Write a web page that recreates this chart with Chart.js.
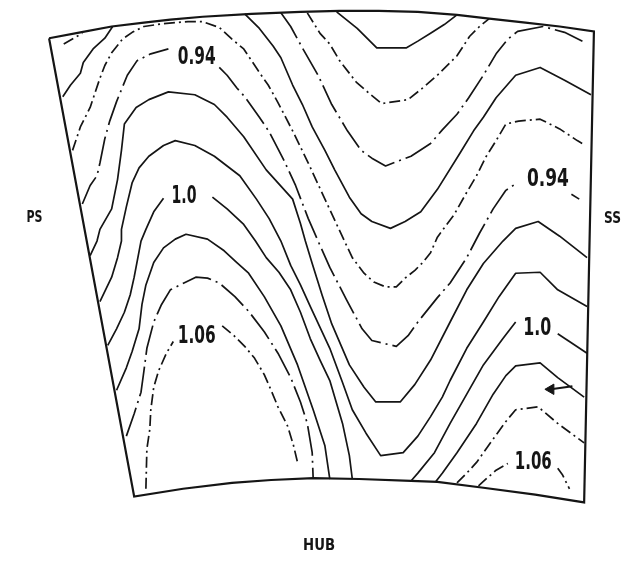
<!DOCTYPE html>
<html>
<head>
<meta charset="utf-8">
<script src="https://cdn.jsdelivr.net/npm/chart.js@4.4.1/dist/chart.umd.min.js"></script>
<style>
  html, body { margin: 0; padding: 0; background: #ffffff; }
  #wrap { width: 642px; height: 565px; }
</style>
</head>
<body>
<div id="wrap"><canvas id="c" width="642" height="565"></canvas></div>
<script>
// Passage outline in sheet units (x: PS -> SS, y: tip -> hub)
const tipArc = [[43,32],[75,26],[107,20],[140,16],[167,13],[200,10],[250,7],[300,5],[340,4],[380,4],[420,5],[460,8],[493,12],[530,16],[565,20],[600,25]];
const hubArc = [[590,508],[540,500],[487,493],[440,487],[413,486],[360,484],[313,483],[270,485],[230,488],[180,494],[130,502]];

// Contour lines, one array per level; null marks the break where a level label sits
const c084 = [[337,5],[358,22],[378,42],[408,42],[420,35],[433,27],[447,18],[460,8]];
const c086 = [[307,6],[320,27],[330,38],[340,55],[357,77],[372,90],[383,99],[410,95],[425,83],[440,70],[460,50],[473,30],[483,20],[493,12]];
const c088a = [[58,38],[77,27]];
const c088 = [[280,6],[290,20],[302,42],[318,70],[332,100],[348,127],[362,147],[373,155],[387,163],[413,153],[433,140],[445,126],[460,110],[472,93],[487,70],[500,48],[512,33],[522,25],[548,20],[570,26],[592,37]];
const c090a = [[57,92],[65,80],[75,68],[78,57],[88,43],[100,32],[108,20]];
const c090 = [[243,7],[258,22],[272,40],[280,52],[292,80],[302,100],[312,123],[325,147],[335,167],[350,195],[362,212],[373,220],[392,227],[407,220],[423,210],[440,187],[463,150],[477,127],[487,113],[500,93],[520,70],[545,62],[570,75],[597,90]];
const c092 = [[67,147],[75,123],[85,103],[95,73],[100,60],[107,47],[118,33],[128,26],[140,20],[160,17],[185,15],[200,15],[217,21],[230,33],[242,43],[248,52],[260,70],[267,80],[277,98],[292,127],[308,160],[325,197],[345,240],[353,257],[365,273],[375,282],[387,287],[398,287],[407,278],[417,270],[425,262],[433,252],[440,236],[457,213],[470,190],[480,173],[490,153],[500,137],[510,120],[523,117],[545,115],[565,125],[583,137],[590,141]];
const c094 = [[77,202],[85,183],[92,173],[95,160],[100,135],[105,117],[112,97],[123,70],[133,55],[147,48],[165,43],null,[217,62],[225,70],[235,83],[243,92],[258,113],[268,128],[283,157],[295,183],[308,217],[318,240],[330,267],[347,300],[363,330],[373,342],[398,348],[410,337],[420,323],[440,298],[453,283],[470,257],[483,232],[497,207],[510,188],[522,180],null,[577,192],[585,197]];
const c096 = [[85,255],[92,240],[95,228],[107,207],[113,177],[117,147],[120,120],[132,103],[145,95],[165,87],[192,90],[212,100],[225,113],[242,133],[265,167],[292,197],[300,222],[305,240],[312,263],[322,295],[332,325],[350,367],[365,390],[377,405],[402,405],[417,387],[433,362],[453,323],[470,290],[487,263],[507,240],[520,227],[543,220],[565,235],[593,257]];
const c098 = [[95,302],[107,277],[113,257],[117,240],[117,228],[122,205],[128,180],[135,165],[145,153],[160,142],[172,137],[192,142],[212,153],[225,163],[238,173],[255,197],[268,217],[280,240],[290,265],[300,285],[310,307],[330,350],[343,385],[353,413],[367,437],[382,460],[405,457],[420,440],[433,420],[445,400],[453,383],[470,350],[487,323],[503,297],[520,273],[545,272],[563,290],[593,307]];
const c100 = [[103,347],[112,330],[120,313],[126,295],[130,277],[137,240],[142,228],[150,210],[160,196],null,[210,195],[225,207],[242,223],[254,240],[265,257],[278,272],[290,290],[300,313],[310,340],[320,362],[330,383],[343,427],[350,460],[353,484]];
const c100b = [[413,486],[420,478],[437,457],[453,427],[470,397],[487,367],[507,340],[520,323],null,[563,335],[593,355]];
const c102 = [[112,393],[122,370],[128,353],[135,330],[138,305],[142,285],[150,262],[160,247],[172,238],[183,233],[205,238],[222,250],[235,262],[247,273],[263,297],[280,327],[297,367],[313,413],[325,450],[330,484]];
const c102b = [[438,487],[445,478],[460,457],[480,427],[497,397],[510,378],[520,368],[545,365],[563,380],[590,400]];
const c104 = [[122,440],[130,417],[137,395],[140,373],[143,350],[150,323],[158,305],[167,290],[183,282],[193,277],[205,278],[217,283],[233,297],[247,312],[263,333],[277,355],[290,380],[300,405],[307,427],[312,457],[313,484]];
const c104b = [[460,488],[470,478],[480,467],[497,443],[510,425],[520,413],[543,410],[563,427],[590,447]];
const c106 = [[142,494],[143,453],[146,433],[147,413],[150,390],[155,373],[163,355],[170,343],null,[220,327],[232,337],[243,348],[253,360],[263,377],[270,393],[277,410],[287,430],[293,450],[297,467]];
const c106b = [[482,491],[492,482],[500,475],[512,468],null,[563,473],[568,480],[575,494]];

// Flow direction marker near the suction side
const flowArrow = [[578,389],[556,392]];

// Level labels and side annotations
const levelLabels = ['0.94', '1.0', '1.06', '0.94', '1.0', '1.06'];
const sideLabels = ['PS', 'SS', 'HUB'];

// ---- styling and layout (kept apart from the values above) ----
const INK = '#151515';
const DASH = { solid: [], dashDot: [11, 4, 2, 4], longDashDot: [30, 5, 2, 5] };

const lineSets = [
  [c084, 'solid'], [c086, 'dashDot'], [c088a, 'dashDot'], [c088, 'longDashDot'],
  [c090a, 'solid'], [c090, 'solid'], [c092, 'dashDot'], [c094, 'longDashDot'],
  [c096, 'solid'], [c098, 'solid'], [c100, 'solid'], [c100b, 'solid'],
  [c102, 'solid'], [c102b, 'solid'], [c104, 'longDashDot'], [c104b, 'dashDot'],
  [c106, 'dashDot'], [c106b, 'dashDot']
];

// label anchors: centre x, baseline y, fitted width (sheet units)
const levelLabelPlace = [
  [194, 58, 38], [181, 201, 25], [194, 345, 38],
  [553, 184, 42], [542, 336, 28], [538, 474, 37]
];
const sideLabelPlace = [[28, 220, 16], [619, 221, 17], [319, 557, 32]];

function toPts(arr) { return arr.map(([x, y]) => ({ x, y })); }

// split an array at null breaks into separate runs
function runs(arr) {
  const out = []; let cur = [];
  arr.forEach(p => { if (p === null) { if (cur.length) out.push(cur); cur = []; } else cur.push(p); });
  if (cur.length) out.push(cur);
  return out;
}

const datasets = [];
datasets.push({
  data: toPts(tipArc.concat(hubArc, [tipArc[0]])),
  showLine: true, borderColor: INK, borderWidth: 2.2, borderDash: [],
  borderJoinStyle: 'miter', pointRadius: 0, fill: false
});
lineSets.forEach(([arr, style]) => {
  runs(arr).forEach(run => {
    datasets.push({
      data: toPts(run), showLine: true, borderColor: INK, borderWidth: 1.7,
      borderDash: DASH[style], borderJoinStyle: 'round', borderCapStyle: 'butt',
      pointRadius: 0, fill: false
    });
  });
});
datasets.push({
  data: toPts(flowArrow), showLine: true, borderColor: INK, borderWidth: 2,
  pointStyle: 'triangle', pointRotation: -90,
  pointRadius: ctx => (ctx.dataIndex === 1 ? 6 : 0),
  pointBackgroundColor: INK, pointBorderColor: INK, pointBorderWidth: 1, fill: false
});

function fittedText(ctx, text, px, py, width, font) {
  ctx.save();
  ctx.font = font;
  ctx.textAlign = 'left';
  ctx.textBaseline = 'alphabetic';
  const m = ctx.measureText(text).width;
  const sx = width / m;
  ctx.translate(px - width / 2, py);
  ctx.scale(sx, 1);
  ctx.fillText(text, 0, 0);
  ctx.restore();
}

const textPlugin = {
  id: 'sheetText',
  afterDatasetsDraw(chart) {
    const { ctx, scales: { x, y } } = chart;
    ctx.fillStyle = INK;
    levelLabels.forEach((t, i) => {
      const [lx, ly, w] = levelLabelPlace[i];
      fittedText(ctx, t, x.getPixelForValue(lx), y.getPixelForValue(ly), w,
        "bold 24px 'Liberation Sans Narrow', 'DejaVu Sans Condensed', 'DejaVu Sans', sans-serif");
    });
    sideLabels.forEach((t, i) => {
      const [lx, ly, w] = sideLabelPlace[i];
      fittedText(ctx, t, x.getPixelForValue(lx), y.getPixelForValue(ly), w,
        "bold 16px 'DejaVu Sans', sans-serif");
    });
  }
};

new Chart(document.getElementById('c'), {
  type: 'scatter',
  data: { datasets },
  options: {
    responsive: false,
    animation: false,
    devicePixelRatio: 1,
    events: [],
    layout: { padding: 0 },
    scales: {
      x: { type: 'linear', min: 0, max: 642, display: false },
      y: { type: 'linear', min: 0, max: 565, reverse: true, display: false }
    },
    plugins: { legend: { display: false }, tooltip: { enabled: false } },
    elements: { line: { tension: 0 }, point: { radius: 0, hoverRadius: 0 } }
  },
  plugins: [textPlugin]
});
</script>
</body>
</html>
